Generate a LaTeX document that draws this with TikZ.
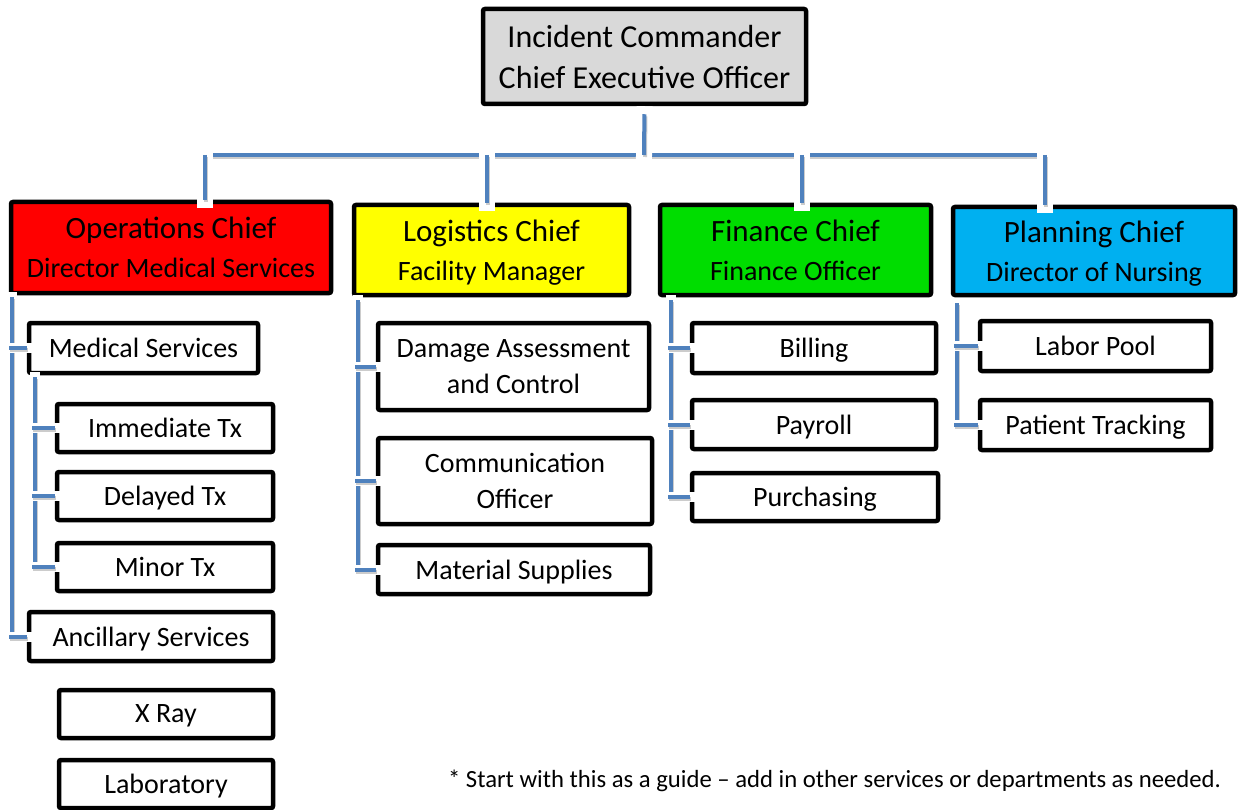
\documentclass[tikz,border=0pt]{standalone}
\usepackage{fontspec}
\setmainfont{Carlito}
\usepackage{tikz}
\usetikzlibrary{positioning,shadows}
\definecolor{linkblue}{HTML}{4F81BD}
\definecolor{icgray}{HTML}{D9D9D9}
\definecolor{opsred}{HTML}{FF0000}
\definecolor{logyellow}{HTML}{FFFF00}
\definecolor{fingreen}{HTML}{00DD00}
\definecolor{plancyan}{HTML}{00B0F0}

\begin{document}
\begin{tikzpicture}
    [x=1pt,y=-1pt,
     box/.style={draw,line width=4.5pt,rounded corners=2pt,fill=white,align=center,inner sep=2pt,
       text depth=0pt,font=\fontsize{28}{36}\selectfont,
       drop shadow={shadow xshift=1.5pt,shadow yshift=-1.5pt,opacity=1,fill=black}},
     chief/.style={box,minimum height=90pt,font=\fontsize{28}{39}\selectfont},
     unit/.style={box,minimum height=49pt},
     link/.style={draw=linkblue,line width=4pt},
     halo/.style={preaction={draw=white,line width=#1,line cap=rect},
       preaction={draw=black!20,line width=4pt,transform canvas={shift={(1pt,-2pt)}}}}]
    \useasboundingbox (0,0) rectangle (1238,810);

    \node[box,fill=icgray,minimum width=323pt,minimum height=95pt,font=\fontsize{32}{41}\selectfont] (ic) at (644.5,56.5) {Incident Commander\\Chief Executive Officer};

    \node[chief,fill=opsred,minimum width=320pt,minimum height=91pt] (ops) at (171,247.5) {{\fontsize{31}{39}\selectfont Operations Chief}\\Director Medical Services};
    \node[chief,fill=logyellow,minimum width=275pt] (log) at (491.5,250) {{\fontsize{31}{39}\selectfont Logistics Chief}\\Facility Manager};
    \node[chief,fill=fingreen,minimum width=271pt] (fin) at (795.5,250) {{\fontsize{31}{39}\selectfont Finance Chief}\\Finance Officer};
    \node[chief,fill=plancyan,minimum width=282pt,minimum height=88pt] (plan) at (1094,251) {{\fontsize{31}{39}\selectfont Planning Chief}\\Director of Nursing};

    \node[unit,minimum width=229pt,minimum height=50pt] (med) at (143.5,348) {Medical Services};
    \node[unit,minimum width=216pt,minimum height=48pt] (imm) at (165,428) {Immediate Tx};
    \node[unit,minimum width=216pt,minimum height=48pt] (del) at (165,496) {Delayed Tx};
    \node[unit,minimum width=216pt,minimum height=48pt] (minor) at (165,567) {Minor Tx};
    \node[unit,minimum width=244pt] (anc) at (151,636.5) {Ancillary Services};
    \node[unit,minimum width=214pt,minimum height=48pt] (xray) at (166,714) {X Ray};
    \node[unit,minimum width=214pt,minimum height=48pt] (lab) at (166,784) {Laboratory};

    \node[unit,minimum width=271pt,minimum height=87pt] (dmg) at (513.5,366.5) {Damage Assessment\\and Control};
    \node[unit,minimum width=274pt,minimum height=86pt] (comm) at (515,481) {Communication\\Officer};
    \node[unit,minimum width=272pt] (mat) at (514,569.5) {Material Supplies};

    \node[unit,minimum width=244pt,minimum height=50pt] (bill) at (814,348) {Billing};
    \node[unit,minimum width=244pt] (pay) at (814,424.5) {Payroll};
    \node[unit,minimum width=246pt,minimum height=48pt] (pur) at (815,497) {Purchasing};

    \node[unit,minimum width=231pt,minimum height=50pt] (labor) at (1095.5,346) {Labor Pool};
    \node[unit,minimum width=231pt,minimum height=50pt] (pat) at (1095.5,425) {Patient Tracking};

    \node[font=\fontsize{24.7}{30}\selectfont] (note) at (834.5,781) {* Start with this as a guide – add in other services or departments as needed.};

    \coordinate (top) at (644,155);
    \coordinate (j1) at (205,155);
    \coordinate (j2) at (487,155);
    \coordinate (j3) at (802,155);
    \coordinate (j4) at (1045,155);
    \coordinate (ro) at (12,297);
    \coordinate (rs) at (35,377);
    \coordinate (rl) at (358,300);
    \coordinate (rf) at (671,300);
    \coordinate (rp) at (957,303);

    \draw[link,halo=16pt] (j1) -- (j4);
    \draw[link,halo=16pt,shorten <=8pt] (ic.south) -- (top);
    \draw[link,halo=16pt] (j1) -- (j1 |- ops.north);
    \draw[link,halo=16pt] (j2) -- (j2 |- log.north);
    \draw[link,halo=16pt] (j3) -- (j3 |- fin.north);
    \draw[link,halo=16pt] (j4) -- (j4 |- plan.north);

    \draw[link,halo=10pt] (ro) -- (ro |- anc.west);
    \draw[link,halo=10pt] (rs) -- (rs |- minor.west);
    \draw[link,halo=10pt] (rl) -- (rl |- mat.west);
    \draw[link,halo=10pt] (rf) -- (rf |- pur.west);
    \draw[link,halo=10pt] (rp) -- (rp |- pat.west);

    \draw[link,halo=10pt,shorten <=-3pt] (ro |- med.west) -- (med.west);
    \draw[link,halo=10pt,shorten <=-3pt] (ro |- anc.west) -- (anc.west);
    \draw[link,halo=10pt,shorten <=-3pt] (rs |- imm.west) -- (imm.west);
    \draw[link,halo=10pt,shorten <=-3pt] (rs |- del.west) -- (del.west);
    \draw[link,halo=10pt,shorten <=-3pt] (rs |- minor.west) -- (minor.west);
    \draw[link,halo=10pt,shorten <=-3pt] (rl |- dmg.west) -- (dmg.west);
    \draw[link,halo=10pt,shorten <=-3pt] (rl |- comm.west) -- (comm.west);
    \draw[link,halo=10pt,shorten <=-3pt] (rl |- mat.west) -- (mat.west);
    \draw[link,halo=10pt,shorten <=-3pt] (rf |- bill.west) -- (bill.west);
    \draw[link,halo=10pt,shorten <=-3pt] (rf |- pay.west) -- (pay.west);
    \draw[link,halo=10pt,shorten <=-3pt] (rf |- pur.west) -- (pur.west);
    \draw[link,halo=10pt,shorten <=-3pt] (rp |- labor.west) -- (labor.west);
    \draw[link,halo=10pt,shorten <=-3pt] (rp |- pat.west) -- (pat.west);
\end{tikzpicture}
\end{document}
